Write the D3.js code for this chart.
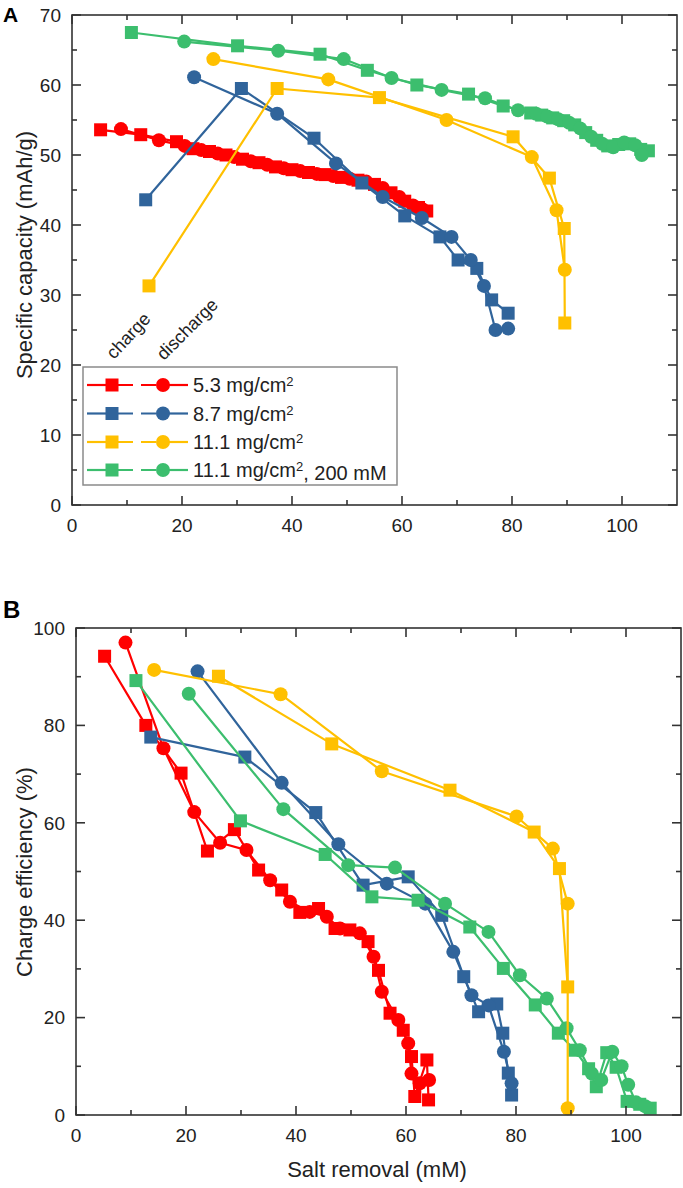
<!DOCTYPE html>
<html><head><meta charset="utf-8">
<script src="https://cdn.jsdelivr.net/npm/d3@7"></script>
<style>
html,body{margin:0;padding:0;background:#fff;}
svg{display:block;font-family:"Liberation Sans",Arial,Helvetica,sans-serif;}
</style></head>
<body>
<svg id="chart" width="683" height="1188"></svg>
<script>
// ---------- DATA ----------
const seriesNames = ["5.3 mg/cm", "8.7 mg/cm", "11.1 mg/cm", "11.1 mg/cm"];
const seriesSuffix = ["", "", "", ", 200 mM"];
const seriesColors = ["#FF0000", "#30649B", "#FFC000", "#3CBE6E"];

const xTicksMajor = [0, 20, 40, 60, 80, 100];
const xTicksMinor = [10, 30, 50, 70, 90, 110];
const capTicksMajor = [0, 10, 20, 30, 40, 50, 60, 70];
const capTicksMinor = [5, 15, 25, 35, 45, 55, 65];
const effTicksMajor = [0, 20, 40, 60, 80, 100];
const effTicksMinor = [10, 30, 50, 70, 90];

// Panel A: specific capacity (mAh/g) vs salt removal (mM)
const capRedCharge = [[5.2,53.6],[12.5,52.9],[19.0,51.9],[22.0,50.9],[25.0,50.5],[28.0,50.0],[31.0,49.4],[34.0,48.9],[37.0,48.3],[40.0,47.9],[43.0,47.5],[46.0,47.2],[49.0,46.8],[52.0,46.4],[55.0,45.8],[58.0,44.6],[60.5,43.4],[63.0,42.5],[64.5,42.0]];
const capRedDischarge = [[8.9,53.7],[15.8,52.1],[20.5,51.3],[23.5,50.7],[26.5,50.2],[29.5,49.7],[32.5,49.1],[35.5,48.6],[38.5,48.1],[41.5,47.7],[44.5,47.3],[47.5,47.0],[50.5,46.6],[53.5,46.2],[56.5,45.3],[59.5,44.0],[62.0,42.8],[63.8,42.2]];
const capBlueCharge = [[13.4,43.6],[30.8,59.5],[44.0,52.4],[52.7,46.0],[60.5,41.3],[66.9,38.3],[70.2,35.0],[73.6,33.8],[76.3,29.3],[79.3,27.4]];
const capBlueDischarge = [[22.2,61.1],[37.3,55.9],[48.0,48.8],[56.5,44.0],[63.6,41.0],[69.0,38.3],[72.5,35.0],[74.9,31.3],[77.0,25.0],[79.3,25.2]];
const capYellowCharge = [[14.0,31.3],[37.3,59.5],[55.9,58.2],[80.2,52.6],[86.8,46.7],[89.5,39.5],[89.6,26.0]];
const capYellowDischarge = [[25.7,63.7],[46.6,60.8],[68.1,55.0],[83.6,49.7],[88.1,42.1],[89.6,33.6]];
const capGreenCharge = [[10.8,67.5],[30.1,65.6],[45.1,64.4],[53.7,62.1],[62.7,60.0],[72.1,58.7],[78.4,57.0],[83.4,56.0],[85.4,55.7],[87.4,55.3],[89.4,54.9],[91.4,54.3],[93.4,53.2],[95.4,52.1],[97.4,51.3],[99.4,51.5],[101.4,51.6],[103.4,50.8],[104.8,50.6]];
const capGreenDischarge = [[20.4,66.2],[37.5,64.9],[49.4,63.7],[58.1,61.0],[67.2,59.3],[75.1,58.1],[81.1,56.4],[84.4,55.9],[86.4,55.5],[88.4,55.1],[90.4,54.6],[92.4,53.8],[94.4,52.6],[96.4,51.6],[98.4,51.1],[100.4,51.8],[102.4,51.4],[103.6,50.0]];

// Panel B: charge efficiency (%) vs salt removal (mM)
const effRedCharge = [[5.2,94.2],[12.7,80.0],[19.1,70.2],[23.9,54.2],[28.8,58.6],[33.2,50.3],[37.4,46.2],[40.7,41.6],[44.1,42.4],[47.1,38.3],[49.8,38.0],[53.1,35.6],[55.0,29.7],[57.1,20.9],[59.5,17.4],[61.0,12.0],[61.6,3.8],[63.8,11.3],[64.1,3.1]];
const effRedDischarge = [[9.0,97.0],[15.9,75.3],[21.5,62.2],[26.2,55.9],[31.0,54.4],[35.3,48.2],[38.9,43.8],[42.5,41.7],[45.6,40.7],[48.0,38.3],[51.6,37.3],[54.1,32.5],[55.6,25.3],[58.6,19.5],[60.4,14.7],[61.0,8.5],[62.5,6.5],[64.2,7.2]];
const effBlueCharge = [[13.6,77.6],[30.7,73.5],[43.6,62.1],[52.2,47.2],[60.4,48.9],[66.5,41.0],[70.5,28.4],[73.2,21.2],[76.5,22.8],[77.6,16.8],[78.6,8.6],[79.2,4.1]];
const effBlueDischarge = [[22.1,91.1],[37.4,68.2],[47.7,55.6],[56.5,47.5],[63.5,43.4],[68.6,33.5],[71.9,24.6],[75.0,22.5],[77.8,13.0],[79.2,6.5]];
const effYellowCharge = [[25.9,90.1],[46.5,76.2],[68.0,66.7],[83.3,58.1],[87.9,50.6],[89.4,26.3]];
const effYellowDischarge = [[14.2,91.4],[37.2,86.4],[55.6,70.6],[80.1,61.3],[86.7,54.7],[89.4,43.4],[89.4,1.4]];
const effGreenCharge = [[10.9,89.2],[29.9,60.4],[45.3,53.5],[53.8,44.8],[62.2,44.1],[71.6,38.6],[77.7,30.1],[83.5,22.6],[87.7,16.8],[90.7,13.3],[93.2,9.5],[94.6,5.8],[96.5,12.8],[98.2,9.8],[100.2,2.8],[102.5,2.2],[104.4,1.4]];
const effGreenDischarge = [[20.5,86.5],[37.7,62.8],[49.5,51.3],[58.0,50.8],[67.1,43.4],[75.0,37.6],[80.7,28.7],[85.6,23.9],[89.2,17.8],[91.6,13.3],[93.8,8.5],[95.5,7.2],[97.5,13.0],[99.2,10.0],[100.4,6.2],[101.8,2.6],[103.5,1.8]];

// ---------- DRAW ----------
const svg = d3.select("#chart");
const axisColor = "#333";
const tickFont = 19, titleFont = 22;
const SQ = 13, CR = 7;

function panel(opt) {
  const x = d3.scaleLinear().domain(opt.xDomain).range([opt.left, opt.right]);
  const y = d3.scaleLinear().domain(opt.yDomain).range([opt.bottom, opt.top]);
  const g = svg.append("g");

  // series (order: red, blue, green, yellow)
  const order = [0, 1, 3, 2];
  const line = d3.line().x(d => x(d[0])).y(d => y(d[1]));
  order.forEach(i => {
    const s = opt.series[i];
    const c = seriesColors[i];
    [s.charge, s.discharge].forEach(arr => {
      g.append("path").attr("d", line(arr)).attr("fill", "none")
        .attr("stroke", c).attr("stroke-width", 2.2).attr("stroke-linejoin", "round");
    });
    g.selectAll(null).data(s.charge).enter().append("rect")
      .attr("x", d => x(d[0]) - SQ / 2).attr("y", d => y(d[1]) - SQ / 2)
      .attr("width", SQ).attr("height", SQ).attr("fill", c);
    g.selectAll(null).data(s.discharge).enter().append("circle")
      .attr("cx", d => x(d[0])).attr("cy", d => y(d[1])).attr("r", CR).attr("fill", c);
  });

  // frame
  g.append("rect").attr("x", opt.left).attr("y", opt.top)
    .attr("width", opt.right - opt.left).attr("height", opt.bottom - opt.top)
    .attr("fill", "none").attr("stroke", axisColor).attr("stroke-width", 1.6);

  const major = 9, minor = 5;
  const tx = (vals, len) => vals.forEach(v => {
    g.append("line").attr("x1", x(v)).attr("x2", x(v)).attr("y1", opt.bottom).attr("y2", opt.bottom - len)
      .attr("stroke", axisColor).attr("stroke-width", 1.6);
    g.append("line").attr("x1", x(v)).attr("x2", x(v)).attr("y1", opt.top).attr("y2", opt.top + len)
      .attr("stroke", axisColor).attr("stroke-width", 1.6);
  });
  tx(xTicksMajor, major); tx(xTicksMinor.filter(v => v < opt.xDomain[1]), minor);
  const ty = (vals, len) => vals.forEach(v => {
    g.append("line").attr("y1", y(v)).attr("y2", y(v)).attr("x1", opt.left).attr("x2", opt.left + len)
      .attr("stroke", axisColor).attr("stroke-width", 1.6);
    g.append("line").attr("y1", y(v)).attr("y2", y(v)).attr("x1", opt.right).attr("x2", opt.right - len)
      .attr("stroke", axisColor).attr("stroke-width", 1.6);
  });
  ty(opt.yMajor, major); ty(opt.yMinor, minor);

  g.selectAll(null).data(xTicksMajor).enter().append("text")
    .attr("x", d => x(d)).attr("y", opt.bottom + 27).attr("text-anchor", "middle")
    .attr("font-size", tickFont).attr("fill", "#222").text(d => d);
  g.selectAll(null).data(opt.yMajor).enter().append("text")
    .attr("x", opt.left - 11).attr("y", d => y(d)).attr("dy", "0.36em").attr("text-anchor", "end")
    .attr("font-size", tickFont).attr("fill", "#222").text(d => d);

  g.append("text").attr("transform", `translate(32,${opt.yTitleY}) rotate(-90)`)
    .attr("text-anchor", "middle").attr("font-size", titleFont).attr("fill", "#222").text(opt.yTitle);
  g.append("text").attr("x", 3).attr("y", opt.letterY).attr("font-size", opt.letterSize)
    .attr("font-weight", "bold").attr("fill", "#000").text(opt.letter);
  return { x, y, g };
}

panel({
  left: 72, right: 677, top: 15, bottom: 505,
  xDomain: [0, 110], yDomain: [0, 70],
  yMajor: capTicksMajor, yMinor: capTicksMinor,
  yTitle: "Specific capacity (mAh/g)", yTitleY: 255,
  letter: "A", letterY: 22, letterSize: 21,
  series: [
    { charge: capRedCharge, discharge: capRedDischarge },
    { charge: capBlueCharge, discharge: capBlueDischarge },
    { charge: capYellowCharge, discharge: capYellowDischarge },
    { charge: capGreenCharge, discharge: capGreenDischarge }
  ]
});

panel({
  left: 76, right: 681, top: 628, bottom: 1115,
  xDomain: [0, 110], yDomain: [0, 100],
  yMajor: effTicksMajor, yMinor: effTicksMinor,
  yTitle: "Charge efficiency (%)", yTitleY: 872,
  letter: "B", letterY: 618, letterSize: 24,
  series: [
    { charge: effRedCharge, discharge: effRedDischarge },
    { charge: effBlueCharge, discharge: effBlueDischarge },
    { charge: effYellowCharge, discharge: effYellowDischarge },
    { charge: effGreenCharge, discharge: effGreenDischarge }
  ]
});

svg.append("text").attr("x", 377).attr("y", 1177).attr("text-anchor", "middle")
  .attr("font-size", titleFont).attr("fill", "#222").text("Salt removal (mM)");

// legend in panel A
const leg = svg.append("g");
leg.append("rect").attr("x", 83).attr("y", 367).attr("width", 314).attr("height", 118)
  .attr("fill", "#fff").attr("stroke", "#8a8a8a").attr("stroke-width", 1.5);
const rowY = [385, 413.5, 442, 470];
seriesColors.forEach((c, i) => {
  const yy = rowY[i];
  leg.append("line").attr("x1", 87).attr("x2", 112).attr("y1", yy).attr("y2", yy).attr("stroke", c).attr("stroke-width", 2.2);
  leg.append("line").attr("x1", 118).attr("x2", 157).attr("y1", yy).attr("y2", yy).attr("stroke", c)
    .attr("stroke-width", 2.2).attr("stroke-dasharray", "15 8");
  leg.append("line").attr("x1", 163).attr("x2", 188).attr("y1", yy).attr("y2", yy).attr("stroke", c).attr("stroke-width", 2.2);
  leg.append("rect").attr("x", 112 - SQ / 2).attr("y", yy - SQ / 2).attr("width", SQ).attr("height", SQ).attr("fill", c);
  leg.append("circle").attr("cx", 163).attr("cy", yy).attr("r", CR).attr("fill", c);
  const t = leg.append("text").attr("x", 193).attr("y", yy).attr("dy", "0.36em")
    .attr("font-size", 20).attr("fill", "#222");
  t.append("tspan").text(seriesNames[i]);
  t.append("tspan").attr("dy", "-0.45em").attr("font-size", 13).text("2");
  if (seriesSuffix[i]) t.append("tspan").attr("dy", "0.45em").text(seriesSuffix[i]);
});

svg.append("text").attr("transform", "translate(114,360) rotate(-47)")
  .attr("font-size", 18).attr("fill", "#222").text("charge");
svg.append("text").attr("transform", "translate(164,361) rotate(-45)")
  .attr("font-size", 18).attr("fill", "#222").text("discharge");
</script>
</body></html>
